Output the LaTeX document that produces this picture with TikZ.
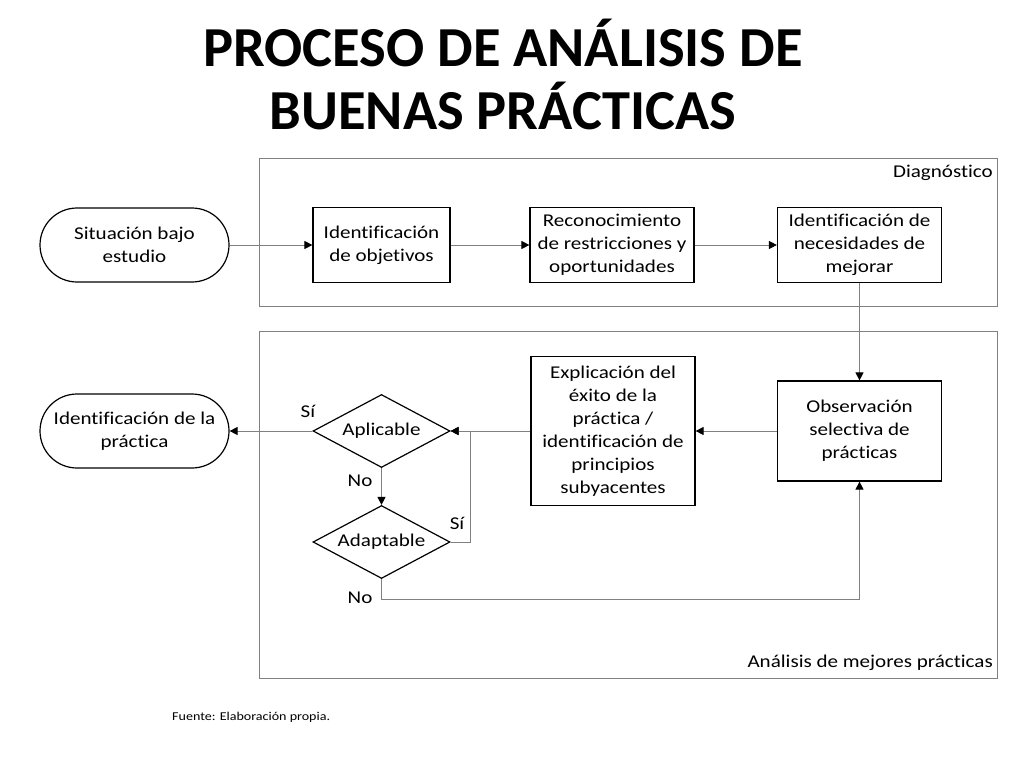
\documentclass[tikz,border=0pt]{standalone}
\usepackage{fontspec}
\setmainfont{Carlito}
\newfontfamily\diafont[FakeStretch=1.17,Ligatures=NoCommon]{Carlito}
\usetikzlibrary{arrows.meta,shapes.geometric,positioning}
\definecolor{lgray}{RGB}{128,128,128}
\tikzset{
  box/.style={draw=black,line width=1.2pt,fill=white,align=center,font=\diafont\fontsize{18}{23}\selectfont,inner sep=2pt},
  term/.style={box,rounded corners=37pt,minimum width=189pt,minimum height=74pt},
  proc/.style={box,minimum width=137pt,minimum height=75pt},
  wproc/.style={box,minimum width=164pt,minimum height=75pt},
  dec/.style={box,diamond,aspect=1.88,inner sep=0pt,minimum width=137pt,minimum height=73pt},
  frame/.style={draw=lgray,line width=1pt},
  conn/.style={draw=lgray,line width=1pt,-{Triangle[length=8pt,width=8pt,color=black]}},
  lbl/.style={font=\diafont\fontsize{18}{23}\selectfont,inner sep=0pt},
}
\begin{document}
\begin{tikzpicture}[x=1pt,y=-1pt]
\useasboundingbox[fill=white] (0,0) rectangle (1024,768);
% title
\node[font=\fontsize{56.5}{63}\selectfont\bfseries,align=center] (title) at (503,74) {PROCESO DE ANÁLISIS DE\\BUENAS PRÁCTICAS};
% frames
\draw[frame] (259,158) rectangle (997,306);
\draw[frame] (259,331) rectangle (997,678);
\node[lbl,anchor=east] (diag) at (993,173) {Diagnóstico};
\node[lbl,anchor=east] (anal) at (993,663) {Análisis de mejores prácticas};
% nodes
\node[term] (sit) at (134.5,245) {Situación bajo\\estudio};
\node[proc] (obj) at (381.5,245) {Identificación\\de objetivos};
\node[wproc] (rec) at (612,245) {Reconocimiento\\de restricciones y\\oportunidades};
\node[wproc] (nec) at (859.5,245) {Identificación de\\necesidades de\\mejorar};
\node[wproc,minimum height=100pt] (obs) at (859.5,431) {Observación\\selectiva de\\prácticas};
\node[wproc,minimum height=149pt] (exp) at (613,431) {Explicación del\\éxito de la\\práctica /\\identificación de\\principios\\subyacentes};
\node[dec] (apl) at (381.5,431) {Aplicable};
\node[dec] (ada) at (381.5,542) {Adaptable};
\node[term] (pra) at (134.5,431) {Identificación de la\\práctica};
% connectors
\draw[conn] (sit) -- (obj);
\draw[conn] (obj) -- (rec);
\draw[conn] (rec) -- (nec);
\draw[conn] (nec) -- (obs);
\draw[conn] (obs) -- (exp);
\draw[conn] (exp) -- (apl.east);
\draw[conn] (apl.west) -- (pra);
\draw[conn] (apl.south) -- (ada.north);
\coordinate (c1) at ([xshift=20pt]ada.east);
\draw[conn] (ada.east) -- (c1) |- (apl.east);
\coordinate (c2) at ([yshift=-20pt]ada.south);
\draw[conn] (ada.south) -- (c2) -| (obs.south);
% labels
\node[lbl] (s1) at (308,411) {Sí};
\node[lbl] (n1) at (360,481) {No};
\node[lbl] (s2) at (457,523) {Sí};
\node[lbl] (n2) at (360,598) {No};
\node[anchor=west,font=\diafont\fontsize{12}{14}\selectfont,inner sep=0pt] (src) at (172,717) {Fuente: Elaboración propia.};
\end{tikzpicture}
\end{document}
